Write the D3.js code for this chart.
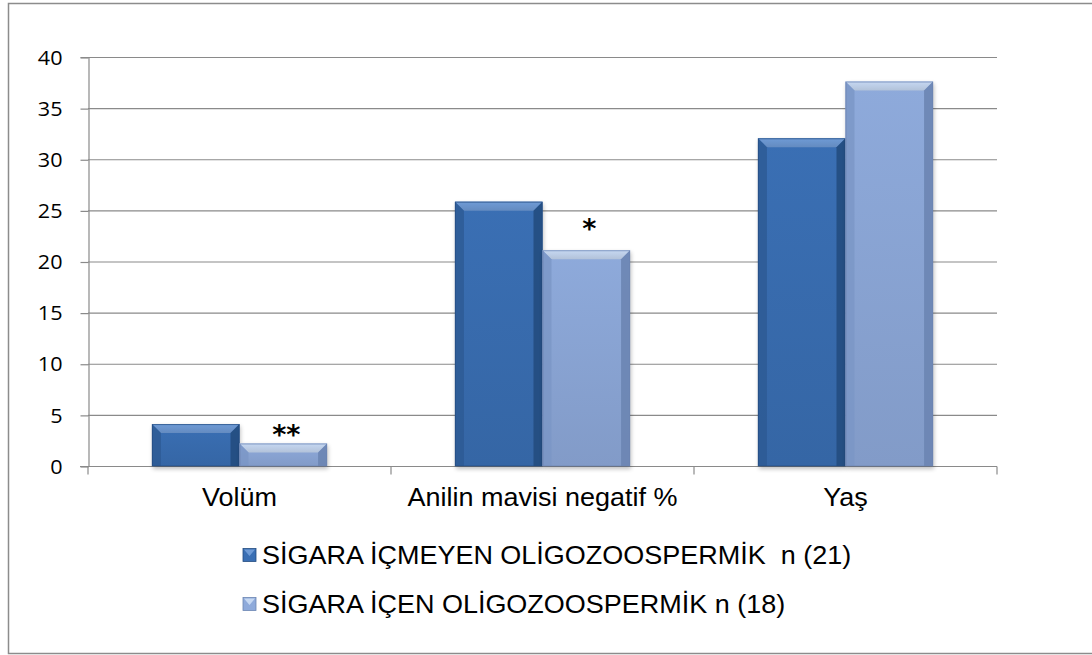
<!DOCTYPE html>
<html>
<head>
<meta charset="utf-8">
<script src="https://cdn.jsdelivr.net/npm/d3@7"></script>
<style>
  html, body { margin: 0; padding: 0; background: #fff; }
  svg { display: block; }
</style>
</head>
<body>
<svg id="chart" width="1092" height="655"></svg>
<script>
// Chart data
const categories = ["Volüm", "Anilin mavisi negatif %", "Yaş"];
const seriesNames = ["SİGARA İÇMEYEN OLİGOZOOSPERMİK  n (21)", "SİGARA İÇEN OLİGOZOOSPERMİK n (18)"];
const nonSmokers = [4.1, 25.85, 32.05];
const smokers = [2.2, 21.1, 37.6];
const significance = ["**", "*", ""];
const yTicks = [0, 5, 10, 15, 20, 25, 30, 35, 40];

const series = [nonSmokers, smokers];
const palette = [
  { face: "#3a6fb4", light: "#6f9bd6", dark: "#234c80", side: "#2d5a94" },
  { face: "#8eaadb", light: "#c6d8f2", dark: "#6c85b2", side: "#7b96c6" }
];
const markerLift = [0, 12, 0]; // gap between bar top and its significance marker
const stretch = 1.08; // text is set slightly wide

const svg = d3.select("#chart");

// outer frame
svg.append("rect")
  .attr("x", 8.5).attr("y", 3.5).attr("width", 1100).attr("height", 650)
  .attr("fill", "none").attr("stroke", "#8c8c8c").attr("stroke-width", 1.5);

const plot = { left: 88, right: 997, top: 57, bottom: 466 };

const y = d3.scaleLinear().domain([0, 40]).range([plot.bottom, plot.top]);
const x = d3.scaleBand().domain(categories).range([plot.left, plot.right]).paddingInner(0).paddingOuter(0);
const barW = x.bandwidth() * 0.289;
const x1 = d3.scaleBand().domain([0, 1]).range([0, barW * 2]);

// gridlines
svg.append("g")
  .selectAll("line").data(yTicks.filter(d => d > 0)).join("line")
  .attr("x1", plot.left).attr("x2", plot.right)
  .attr("y1", d => y(d) + 0.5).attr("y2", d => y(d) + 0.5)
  .attr("stroke", "#8a8a8a").attr("stroke-width", 1.2);

// y axis
const yAxis = svg.append("g")
  .attr("transform", `translate(${plot.left + 0.5},0)`)
  .call(d3.axisLeft(y).tickValues(yTicks).tickSize(8).tickPadding(0));
yAxis.select(".domain").attr("stroke", "#8a8a8a").attr("stroke-width", 1.2);
yAxis.selectAll(".tick line").attr("stroke", "#8a8a8a").attr("stroke-width", 1.2)
  .attr("transform", "translate(0,0.5)");
yAxis.selectAll(".tick text")
  .attr("x", -26 / stretch)
  .attr("transform", `scale(${stretch},1)`)
  .attr("font-family", "'Open Sans', Lato, sans-serif")
  .attr("font-size", 20).attr("fill", "#000")
  .attr("dy", "0.36em");

// x axis
const xAxis = svg.append("g")
  .attr("transform", `translate(0,${plot.bottom + 0.5})`)
  .call(d3.axisBottom(x).tickSize(0).tickPadding(0));
xAxis.select(".domain").remove();
xAxis.append("line").attr("x1", plot.left - 8).attr("x2", plot.right)
  .attr("stroke", "#8a8a8a").attr("stroke-width", 1.2);
xAxis.selectAll(".sep").data([plot.left, ...categories.map(c => x(c) + x.bandwidth())]).join("line")
  .attr("class", "sep")
  .attr("x1", d => d).attr("x2", d => d).attr("y1", 0).attr("y2", 8)
  .attr("stroke", "#8a8a8a").attr("stroke-width", 1.2);
xAxis.selectAll(".tick text")
  .attr("y", 40).attr("dy", 0)
  .attr("transform", `scale(${stretch},1)`)
  .attr("font-family", "'Liberation Sans', Arial, sans-serif")
  .attr("font-size", 25).attr("fill", "#000");

// shadows and bevels
const defs = svg.append("defs");
const blur = defs.append("filter").attr("id", "shadow").attr("x", "-20%").attr("y", "-20%").attr("width", "140%").attr("height", "140%");
blur.append("feGaussianBlur").attr("stdDeviation", 2);

palette.forEach((p, i) => {
  const g = defs.append("linearGradient").attr("id", "face" + i).attr("x1", 0).attr("x2", 0).attr("y1", 0).attr("y2", 1);
  g.append("stop").attr("offset", 0).attr("stop-color", p.face);
  g.append("stop").attr("offset", 1).attr("stop-color", d3.color(p.face).darker(0.25));
  const t = defs.append("linearGradient").attr("id", "top" + i).attr("x1", 0).attr("x2", 0).attr("y1", 0).attr("y2", 1);
  t.append("stop").attr("offset", 0).attr("stop-color", p.light);
  t.append("stop").attr("offset", 1).attr("stop-color", d3.color(p.light).darker(0.3));
});

const bars = svg.append("g");
categories.forEach((c, ci) => {
  const gx = x(c) + (x.bandwidth() - barW * 2) / 2;
  series.forEach((vals, si) => {
    const p = palette[si];
    const x0 = gx + x1(si), w = x1.bandwidth();
    const yt = y(vals[ci]), yb = y(0);
    const h = yb - yt;
    const b = Math.min(9, h / 2);
    const g = bars.append("g");
    // soft shadow beneath bar
    g.append("rect").attr("x", x0 + 1).attr("y", yt + 2).attr("width", w).attr("height", h + 1)
      .attr("fill", "#000").attr("opacity", 0.25).attr("filter", "url(#shadow)");
    g.append("rect").attr("x", x0).attr("y", yt).attr("width", w).attr("height", h)
      .attr("fill", `url(#face${si})`);
    // top bevel
    g.append("polygon")
      .attr("points", [[x0, yt], [x0 + w, yt], [x0 + w - b, yt + b], [x0 + b, yt + b]].map(q => q.join(",")).join(" "))
      .attr("fill", `url(#top${si})`);
    // left bevel
    g.append("polygon")
      .attr("points", [[x0, yt], [x0 + b, yt + b], [x0 + b, yb], [x0, yb]].map(q => q.join(",")).join(" "))
      .attr("fill", p.side).attr("opacity", 0.8);
    // right bevel
    g.append("polygon")
      .attr("points", [[x0 + w, yt], [x0 + w - b, yt + b], [x0 + w - b, yb], [x0 + w, yb]].map(q => q.join(",")).join(" "))
      .attr("fill", p.dark).attr("opacity", 0.9);
    g.append("rect").attr("x", x0 + 0.5).attr("y", yt + 0.5).attr("width", w - 1).attr("height", h - 0.5)
      .attr("fill", "none").attr("stroke", p.dark).attr("stroke-width", 1).attr("opacity", 0.7);
  });
  // significance markers above the smoker bar
  if (significance[ci]) {
    bars.append("text")
      .attr("x", gx + x1(1) + x1.bandwidth() / 2 + 3)
      .attr("y", y(smokers[ci]) - markerLift[ci])
      .attr("text-anchor", "middle")
      .attr("font-family", "'DejaVu Sans', sans-serif")
      .attr("font-weight", "bold")
      .attr("font-size", 27)
      .text(significance[ci]);
  }
});

// legend
const legend = svg.append("g");
seriesNames.forEach((name, i) => {
  const ly = 555 + i * 49;
  const p = palette[i];
  const sx = 243, s = 13;
  legend.append("rect").attr("x", sx).attr("y", ly - s / 2).attr("width", s).attr("height", s)
    .attr("fill", p.face).attr("stroke", p.dark).attr("stroke-width", 0.8);
  legend.append("polygon")
    .attr("points", [[sx + 1, ly - s / 2 + 1], [sx + s - 1, ly - s / 2 + 1], [sx + s / 2, ly + 1]].map(q => q.join(",")).join(" "))
    .attr("fill", p.light);
  legend.append("text")
    .attr("x", 262 / stretch).attr("y", ly).attr("dy", "0.35em")
    .attr("transform", `scale(${stretch},1)`)
    .attr("font-family", "'Liberation Sans', Arial, sans-serif")
    .attr("font-size", 25).attr("fill", "#000")
    .attr("xml:space", "preserve")
    .style("white-space", "pre")
    .text(name);
});
</script>
</body>
</html>
